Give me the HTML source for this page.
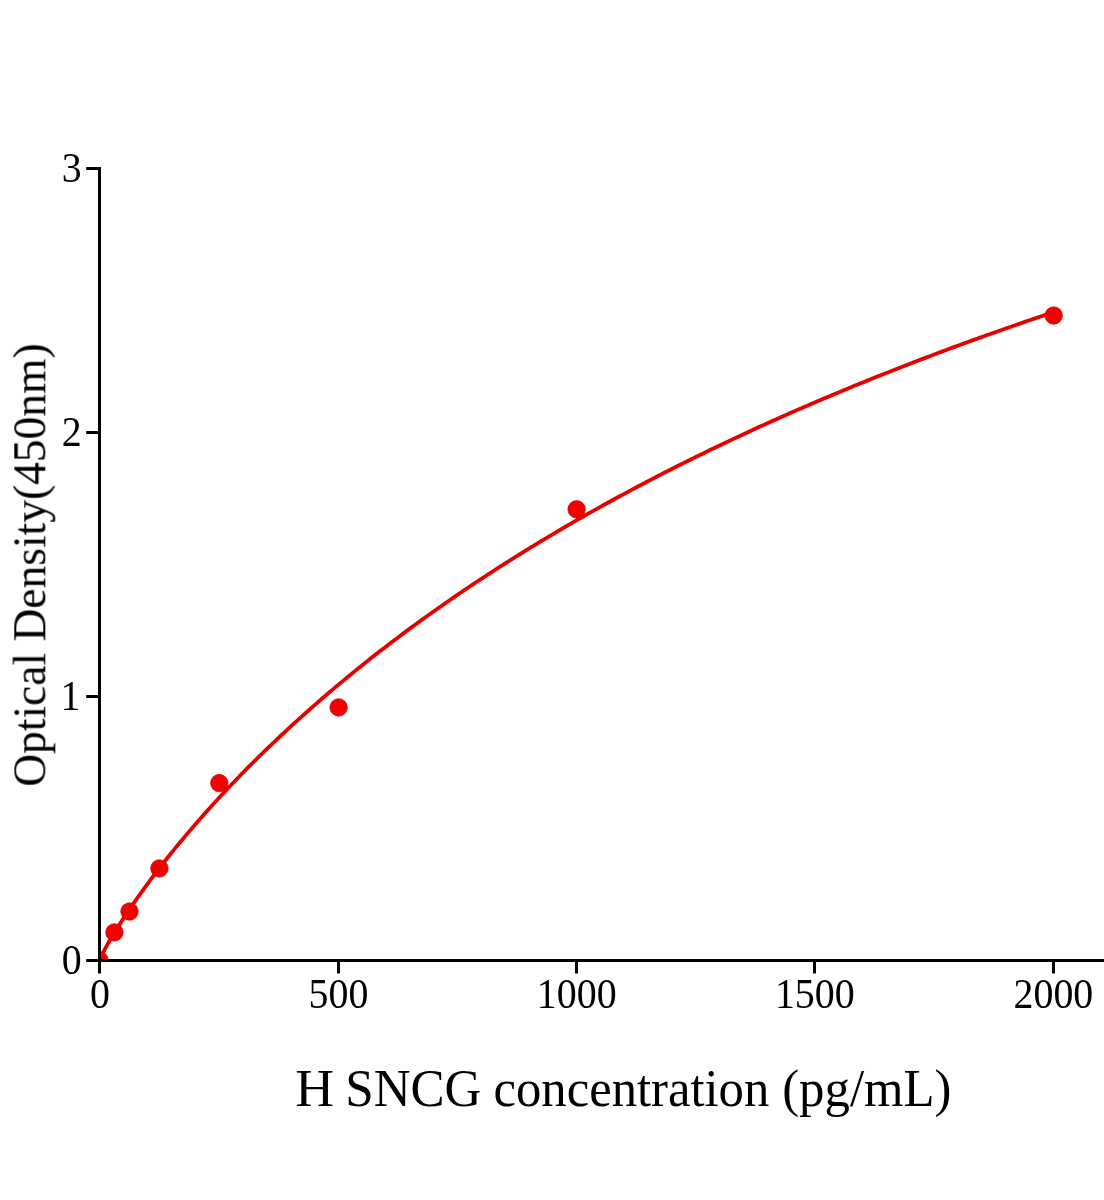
<!DOCTYPE html>
<html><head><meta charset="utf-8"><title>H SNCG standard curve</title>
<style>
html,body{margin:0;padding:0;background:#fff;}
body{width:1104px;height:1200px;overflow:hidden;}
svg{display:block;}
text{font-family:"Liberation Serif",serif;fill:#000;}
.t text{font-size:42px;}
</style></head><body>
<svg width="1104" height="1200" viewBox="0 0 1104 1200">
<rect width="1104" height="1200" fill="#fff"/>
<defs><mask id="m" maskUnits="userSpaceOnUse" x="0" y="0" width="1104" height="1200"><rect width="1104" height="1200" fill="#fff"/></mask><clipPath id="plot"><rect x="99.5" y="100" width="1005" height="860.5"/></clipPath></defs>
<g clip-path="url(#plot)">
<path d="M99.50,960.50 99.74,959.80 102.93,952.95 106.12,946.94 109.31,941.28 112.50,935.85 115.69,930.60 118.88,925.50 122.07,920.52 125.26,915.64 128.45,910.86 131.64,906.17 134.83,901.55 138.02,897.01 141.21,892.54 144.40,888.13 147.59,883.78 150.78,879.49 153.97,875.25 157.16,871.06 160.35,866.92 163.54,862.83 166.73,858.79 169.91,854.79 173.10,850.83 176.29,846.92 179.48,843.04 182.67,839.20 185.86,835.40 189.05,831.64 192.24,827.91 195.43,824.21 198.62,820.55 201.81,816.92 205.00,813.32 208.19,809.75 211.38,806.22 214.57,802.71 217.76,799.24 220.95,795.79 224.14,792.37 227.33,788.97 230.52,785.60 233.71,782.26 236.90,778.95 240.09,775.66 243.28,772.39 246.47,769.15 249.66,765.94 252.85,762.74 256.04,759.57 259.23,756.43 262.42,753.30 265.61,750.20 268.80,747.12 271.99,744.06 275.18,741.02 278.37,738.00 281.56,735.01 284.75,732.03 287.94,729.07 291.13,726.13 294.32,723.22 297.51,720.32 300.70,717.44 303.89,714.57 307.08,711.73 310.27,708.90 313.46,706.10 316.65,703.31 319.84,700.53 323.03,697.78 326.22,695.04 329.41,692.32 332.60,689.61 335.79,686.92 338.98,684.25 342.17,681.59 345.36,678.95 348.55,676.32 351.74,673.71 354.93,671.11 358.12,668.53 361.31,665.97 364.50,663.42 367.68,660.88 370.87,658.36 374.06,655.85 377.25,653.35 380.44,650.87 383.63,648.41 386.82,645.95 390.01,643.52 393.20,641.09 396.39,638.68 399.58,636.28 402.77,633.89 405.96,631.52 409.15,629.15 412.34,626.81 415.53,624.47 418.72,622.14 421.91,619.83 425.10,617.53 428.29,615.24 431.48,612.97 434.67,610.70 437.86,608.45 441.05,606.21 444.24,603.98 447.43,601.76 450.62,599.55 453.81,597.36 457.00,595.17 460.19,593.00 463.38,590.83 466.57,588.68 469.76,586.54 472.95,584.40 476.14,582.28 479.33,580.17 482.52,578.07 485.71,575.98 488.90,573.90 492.09,571.83 495.28,569.77 498.47,567.71 501.66,565.67 504.85,563.64 508.04,561.62 511.23,559.61 514.42,557.60 517.61,555.61 520.80,553.62 523.99,551.65 527.18,549.68 530.37,547.72 533.56,545.77 536.75,543.83 539.94,541.90 543.13,539.98 546.32,538.07 549.51,536.16 552.70,534.26 555.89,532.38 559.08,530.50 562.26,528.63 565.45,526.76 568.64,524.91 571.83,523.06 575.02,521.22 578.21,519.39 581.40,517.57 584.59,515.75 587.78,513.95 590.97,512.15 594.16,510.36 597.35,508.57 600.54,506.80 603.73,505.03 606.92,503.27 610.11,501.51 613.30,499.77 616.49,498.03 619.68,496.29 622.87,494.57 626.06,492.85 629.25,491.14 632.44,489.44 635.63,487.74 638.82,486.05 642.01,484.37 645.20,482.70 648.39,481.03 651.58,479.37 654.77,477.71 657.96,476.06 661.15,474.42 664.34,472.79 667.53,471.16 670.72,469.54 673.91,467.92 677.10,466.31 680.29,464.71 683.48,463.11 686.67,461.52 689.86,459.94 693.05,458.36 696.24,456.79 699.43,455.23 702.62,453.67 705.81,452.11 709.00,450.57 712.19,449.03 715.38,447.49 718.57,445.96 721.76,444.44 724.95,442.92 728.14,441.41 731.33,439.90 734.52,438.40 737.71,436.91 740.90,435.42 744.09,433.94 747.28,432.46 750.47,430.99 753.66,429.52 756.85,428.06 760.03,426.60 763.22,425.15 766.41,423.71 769.60,422.27 772.79,420.83 775.98,419.41 779.17,417.98 782.36,416.56 785.55,415.15 788.74,413.74 791.93,412.34 795.12,410.94 798.31,409.55 801.50,408.16 804.69,406.78 807.88,405.40 811.07,404.02 814.26,402.66 817.45,401.29 820.64,399.93 823.83,398.58 827.02,397.23 830.21,395.89 833.40,394.55 836.59,393.21 839.78,391.88 842.97,390.56 846.16,389.24 849.35,387.92 852.54,386.61 855.73,385.30 858.92,384.00 862.11,382.70 865.30,381.41 868.49,380.12 871.68,378.83 874.87,377.55 878.06,376.28 881.25,375.01 884.44,373.74 887.63,372.48 890.82,371.22 894.01,369.96 897.20,368.71 900.39,367.47 903.58,366.22 906.77,364.99 909.96,363.75 913.15,362.52 916.34,361.30 919.53,360.08 922.72,358.86 925.91,357.65 929.10,356.44 932.29,355.23 935.48,354.03 938.67,352.83 941.86,351.64 945.05,350.45 948.24,349.26 951.43,348.08 954.62,346.90 957.80,345.73 960.99,344.56 964.18,343.39 967.37,342.23 970.56,341.07 973.75,339.91 976.94,338.76 980.13,337.61 983.32,336.47 986.51,335.33 989.70,334.19 992.89,333.06 996.08,331.93 999.27,330.80 1002.46,329.68 1005.65,328.56 1008.84,327.44 1012.03,326.33 1015.22,325.22 1018.41,324.12 1021.60,323.02 1024.79,321.92 1027.98,320.82 1031.17,319.73 1034.36,318.64 1037.55,317.56 1040.74,316.48 1043.93,315.40 1047.12,314.32 1050.31,313.25 1053.50,312.18" fill="none" stroke="#e60000" stroke-width="3.8" stroke-linejoin="round" stroke-linecap="round"/>
<g fill="#f30000" stroke="#d80000" stroke-width="0.7"><circle cx="99.5" cy="960.5" r="8.75"/><circle cx="114.4" cy="932.4" r="8.75"/><circle cx="129.5" cy="911.5" r="8.75"/><circle cx="159.4" cy="868.4" r="8.75"/><circle cx="219.3" cy="783.1" r="8.75"/><circle cx="338.6" cy="707.4" r="8.75"/><circle cx="576.6" cy="509.3" r="8.75"/><circle cx="1053.7" cy="315.5" r="8.75"/></g>
</g>
<g fill="#000">
<rect x="98" y="167" width="3" height="806.5"/>
<rect x="86.2" y="959" width="1017.8" height="3"/>
<rect x="86.2" y="167" width="13" height="3"/>
<rect x="86.2" y="431" width="13" height="3"/>
<rect x="86.2" y="695" width="13" height="3"/>
<rect x="337" y="960" width="3" height="13.5"/>
<rect x="575" y="960" width="3" height="13.5"/>
<rect x="813" y="960" width="3" height="13.5"/>
<rect x="1052" y="960" width="3" height="13.5"/>
</g>
<g mask="url(#m)">
<g class="t"><g transform="translate(81.7 182.4) scale(0.95 1)"><text text-anchor="end">3</text></g><g transform="translate(81.7 446.4) scale(0.95 1)"><text text-anchor="end">2</text></g><g transform="translate(80.4 710.4) scale(0.95 1)"><text text-anchor="end">1</text></g><g transform="translate(81.7 974.4) scale(0.95 1)"><text text-anchor="end">0</text></g><g transform="translate(99.9 1007.7) scale(0.95 1)"><text text-anchor="middle">0</text></g><g transform="translate(338.5 1007.7) scale(0.95 1)"><text text-anchor="middle">500</text></g><g transform="translate(576.7 1007.7) scale(0.95 1)"><text text-anchor="middle">1000</text></g><g transform="translate(814.8 1007.7) scale(0.95 1)"><text text-anchor="middle">1500</text></g><g transform="translate(1053.4 1007.7) scale(0.95 1)"><text text-anchor="middle">2000</text></g></g>
<g transform="translate(295.37 1106) scale(1.0143 1)"><text font-size="53">H</text></g><g transform="translate(345.24 1106) scale(0.9640 1)"><text font-size="53">SNCG</text></g><g transform="translate(493.49 1106) scale(0.9563 1)"><text font-size="53">concentration</text></g><g transform="translate(782.18 1106) scale(0.9587 1)"><text font-size="53">(pg/mL)</text></g>
<g transform="translate(45.3 786.68) rotate(-90) scale(0.9887 1)"><text font-size="46">Optical Density(450nm)</text></g>
</g>
</svg>
</body></html>
